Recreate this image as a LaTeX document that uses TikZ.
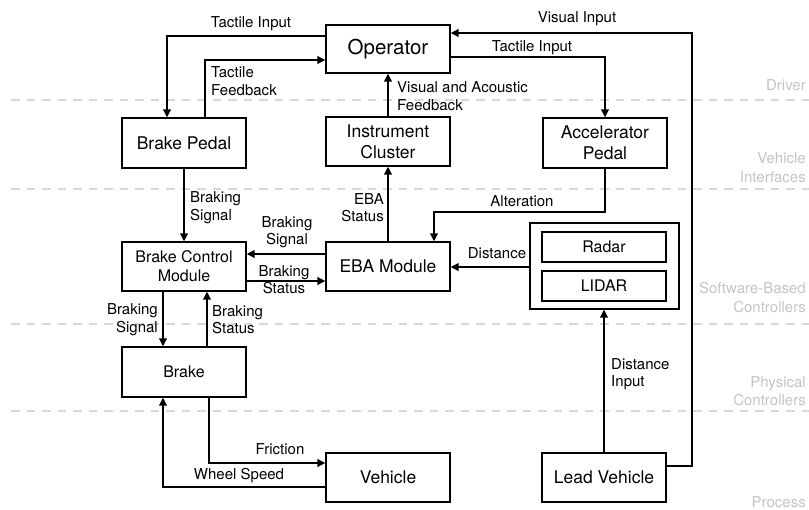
\documentclass[tikz,border=0pt]{standalone}
\usepackage{fontspec}
\setmainfont{TeX Gyre Heros}
\usetikzlibrary{arrows.meta}
\definecolor{layergray}{HTML}{D8D8D8}
\definecolor{layertext}{HTML}{C4C4C4}
\tikzset{
  blk/.style={draw, line width=1.2pt, fill=white, minimum width=124pt, minimum height=49pt,
    inner sep=0pt, align=center, font=\fontsize{17.5}{21}\selectfont},
  blksmall/.style={blk, font=\fontsize{16}{19}\selectfont},
  flow/.style={line width=2pt, -{Triangle[length=8pt,width=7.5pt]}},
  lbl/.style={inner sep=0pt, font=\fontsize{15}{17.5}\selectfont},
  layer/.style={line width=2pt, layergray, dash pattern=on 8.5pt off 7pt},
  layerlbl/.style={inner sep=0pt, anchor=east, align=right, text=layertext,
    font=\fontsize{15}{18.5}\selectfont},
}
\begin{document}
\begin{tikzpicture}[x=1pt,y=-1pt]
\useasboundingbox (0,0) rectangle (809,509);

% layer separators
\draw[layer] (11,99.5) -- (809,99.5);
\draw[layer] (11,189) -- (809,189);
\draw[layer] (11,324) -- (809,324);
\draw[layer] (11,411) -- (809,411);

% layer names
\node[layerlbl] (lDriver) at (806,85) {Driver};
\node[layerlbl] (lIface) at (806,167.5) {Vehicle\\Interfaces};
\node[layerlbl] (lSoft) at (806,297.5) {Software-Based\\Controllers};
\node[layerlbl] (lPhys) at (806,391) {Physical\\Controllers};
\node[layerlbl] (lProc) at (806,502) {Process};

% blocks
\node[blk, minimum height=48pt, font=\fontsize{20.5}{24}\selectfont] (op) at (388,49) {Operator};
\node[blk, minimum height=50pt] (bp) at (184,143) {Brake Pedal};
\node[blk] (ic) at (388,141.5) {Instrument\\Cluster};
\node[blk, minimum height=50pt] (ap) at (605,143) {Accelerator\\Pedal};
\node[blksmall] (bcm) at (184,266.5) {Brake Control\\Module};
\node[blk] (eba) at (388,266.5) {EBA Module};
\node[blk, minimum width=149pt, minimum height=86pt] (sens) at (604.5,266) {};
\node[blksmall, minimum height=30pt] (radar) at (604,247) {Radar};
\node[blksmall, minimum height=30pt] (lidar) at (604,286) {LIDAR};
\node[blksmall, minimum height=50pt] (brake) at (184,372) {Brake};
\node[blk] (veh) at (388,477.5) {Vehicle};
\node[blk] (lead) at (604,477.5) {Lead Vehicle};

% bend points
\coordinate (visbend) at (692,33);
\coordinate (altbend) at (434,212);

% connectors
\draw[flow] (op.west |- 0,36) -| (bp.north -| 167,0);
\draw[flow] (bp.north -| 205,0) |- (op.west |- 0,60);
\draw[flow] (ic.north) -- (op.south);
\draw[flow] (lead.east |- 0,466) -| (visbend) -- (op.east |- visbend);
\draw[flow] (op.east |- 0,57) -| (ap.north);
\draw[flow] (bp.south) -- (bcm.north);
\draw[flow] (eba.north) -- (ic.south);
\draw[flow] (ap.south) |- (altbend) -- (eba.north -| altbend);
\draw[flow] (eba.west |- 0,254) -- (bcm.east |- 0,254);
\draw[flow] (bcm.east |- 0,281) -- (eba.west |- 0,281);
\draw[flow] (sens.west |- 0,267) -- (eba.east |- 0,267);
\draw[flow] (lead.north) -- (sens.south -| lead.north);
\draw[flow] (bcm.south -| 163,0) -- (brake.north -| 163,0);
\draw[flow] (brake.north -| 207,0) -- (bcm.south -| 207,0);
\draw[flow] (brake.south -| 209,0) |- (veh.west |- 0,463);
\draw[flow] (veh.west |- 0,487) -| (brake.south -| 163,0);

% connector labels
\node[lbl] (tTacIn) at (251,24) {Tactile Input};
\node[lbl, anchor=west, align=left] (tTacFb) at (211,81) {Tactile\\Feedback};
\node[lbl, anchor=west, align=left] (tVisFb) at (397,96) {Visual and Acoustic\\Feedback};
\node[lbl] (tVisIn) at (577,19) {Visual Input};
\node[lbl] (tTacIn2) at (532,48) {Tactile Input};
\node[lbl, anchor=west, align=left] (tBrSig1) at (190,207.5) {Braking\\Signal};
\node[lbl, anchor=east, align=right] (tEbaSt) at (384,207.5) {EBA\\Status};
\node[lbl] (tAlt) at (522,201) {Alteration};
\node[lbl, align=center] (tBrSig2) at (287,232) {Braking\\Signal};
\node[lbl, align=center] (tBrSt1) at (284,279.5) {Braking\\Status};
\node[lbl] (tDist) at (497,253) {Distance};
\node[lbl, anchor=west, align=left] (tDistIn) at (611,374) {Distance\\Input};
\node[lbl, anchor=east, align=right] (tBrSig3) at (158,319.5) {Braking\\Signal};
\node[lbl, anchor=west, align=left] (tBrSt2) at (212,319.5) {Braking\\Status};
\node[lbl] (tFric) at (280,449) {Friction};
\node[lbl] (tWheel) at (239,476) {Wheel Speed};
\end{tikzpicture}
\end{document}
